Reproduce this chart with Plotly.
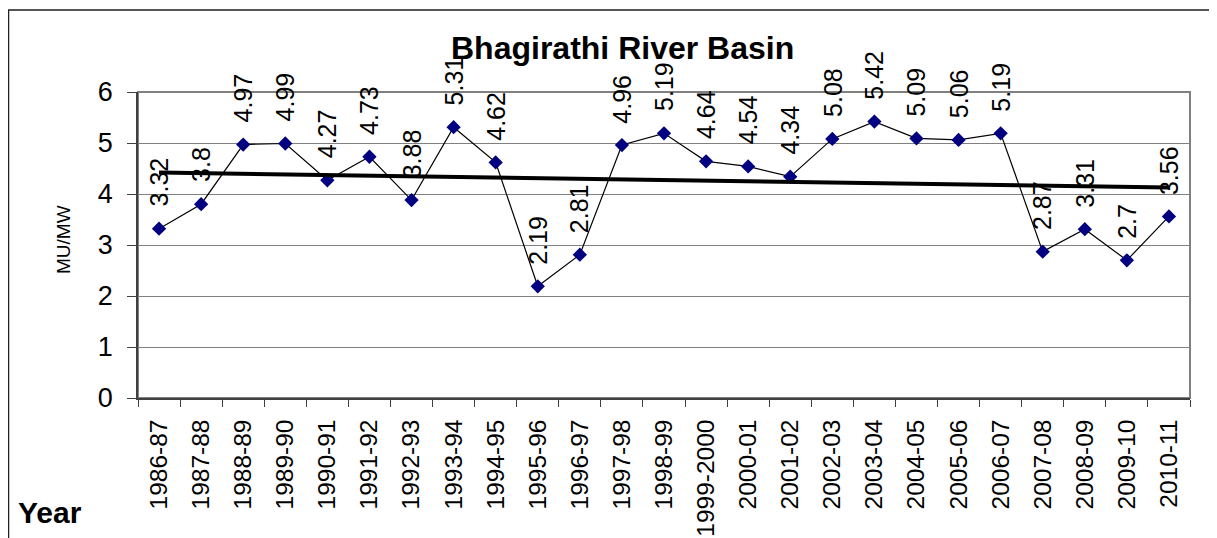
import numpy as np
import plotly.graph_objects as go

years = ["1986-87", "1987-88", "1988-89", "1989-90", "1990-91", "1991-92", "1992-93",
         "1993-94", "1994-95", "1995-96", "1996-97", "1997-98", "1998-99", "1999-2000",
         "2000-01", "2001-02", "2002-03", "2003-04", "2004-05", "2005-06", "2006-07",
         "2007-08", "2008-09", "2009-10", "2010-11"]
values = [3.32, 3.8, 4.97, 4.99, 4.27, 4.73, 3.88, 5.31, 4.62, 2.19, 2.81, 4.96, 5.19,
          4.64, 4.54, 4.34, 5.08, 5.42, 5.09, 5.06, 5.19, 2.87, 3.31, 2.7, 3.56]
labels = ["3.32", "3.8", "4.97", "4.99", "4.27", "4.73", "3.88", "5.31", "4.62", "2.19",
          "2.81", "4.96", "5.19", "4.64", "4.54", "4.34", "5.08", "5.42", "5.09", "5.06",
          "5.19", "2.87", "3.31", "2.7", "3.56"]
y_ticks = [0, 1, 2, 3, 4, 5, 6]

FONT = "Arial, Liberation Sans, sans-serif"
OFF = 8  # default page body margin
W, H = 1217 - OFF, 538 - OFF
L, T = 138 - OFF, 92 - OFF
R = W - (1190 - OFF)
B = H - (398 - OFF)
pw, ph = W - L - R, H - T - B

LABEL_SIZE = 25
LABEL_GAP = 22

def px_x(p):
    return (p - OFF - L) / pw

def px_y(p):
    return (H - B - (p - OFF)) / ph

def text_width(s, size):
    # Arial / Liberation Sans advance widths (em)
    w = sum(0.278 if ch == "." else 0.556 for ch in s)
    return w * size

idx = np.arange(len(values))
slope, intercept = np.polyfit(idx, values, 1)
trend = slope * idx + intercept

fig = go.Figure()
fig.add_trace(go.Scatter(
    x=years, y=values, mode="lines+markers",
    line=dict(color="black", width=1.2),
    marker=dict(symbol="diamond", size=11, color="#000080", line=dict(width=0)),
    showlegend=False, cliponaxis=False,
))
fig.add_trace(go.Scatter(
    x=years, y=trend, mode="lines",
    line=dict(color="black", width=4), showlegend=False,
))

annotations = []
for yr, v, lab in zip(years, values, labels):
    annotations.append(dict(
        x=yr, y=v, xref="x", yref="y", text=lab, showarrow=False,
        textangle=-90, xanchor="center", yanchor="middle",
        yshift=LABEL_GAP + text_width(lab, LABEL_SIZE) / 2,
        font=dict(family=FONT, size=LABEL_SIZE, color="black"), borderpad=0,
    ))

annotations.append(dict(
    x=px_x(622), y=px_y(48), xref="paper", yref="paper", text="<b>Bhagirathi River Basin</b>",
    showarrow=False, xanchor="center", yanchor="middle",
    font=dict(family=FONT, size=32, color="black"),
))
annotations.append(dict(
    x=px_x(64), y=px_y(240), xref="paper", yref="paper", text="MU/MW",
    showarrow=False, textangle=-90, xanchor="center", yanchor="middle",
    font=dict(family=FONT, size=19, color="black"),
))
annotations.append(dict(
    x=px_x(50), y=px_y(512), xref="paper", yref="paper", text="<b>Year</b>",
    showarrow=False, xanchor="center", yanchor="middle",
    font=dict(family=FONT, size=30, color="black"),
))

shapes = [
    dict(type="rect", xref="paper", yref="paper", x0=0, x1=1, y0=0, y1=1,
         line=dict(color="#808080", width=2), layer="below"),
    dict(type="rect", xref="paper", yref="paper", x0=px_x(8.5), x1=px_x(1240),
         y0=px_y(570), y1=px_y(10), line=dict(color="#202020", width=1.5)),
]

fig.update_layout(
    width=W, height=H,
    margin=dict(l=L, r=R, t=T, b=B, pad=0, autoexpand=False),
    paper_bgcolor="white", plot_bgcolor="white",
    font=dict(family=FONT, color="black"),
    annotations=annotations, shapes=shapes,
    xaxis=dict(
        type="category", range=[-0.5, len(years) - 0.5],
        tickangle=-90, tickfont=dict(family=FONT, size=24.5, color="black"),
        ticks="outside", ticklen=7, tickcolor="#404040", tickwidth=1.2,
        tickson="boundaries", showgrid=False,
        showline=True, linecolor="#404040", linewidth=1.5,
        zeroline=False, ticklabelstandoff=10, automargin=False,
    ),
    yaxis=dict(
        range=[0, 6], tickvals=y_ticks, ticktext=[str(t) for t in y_ticks],
        tickfont=dict(family=FONT, size=27, color="black"),
        ticks="outside", ticklen=9, tickcolor="#404040", tickwidth=1.2,
        showgrid=True, gridcolor="#808080", gridwidth=1.2,
        showline=True, linecolor="#404040", linewidth=1.5,
        zeroline=False, ticklabelstandoff=9, automargin=False,
    ),
)

fig.write_html("out.html")
